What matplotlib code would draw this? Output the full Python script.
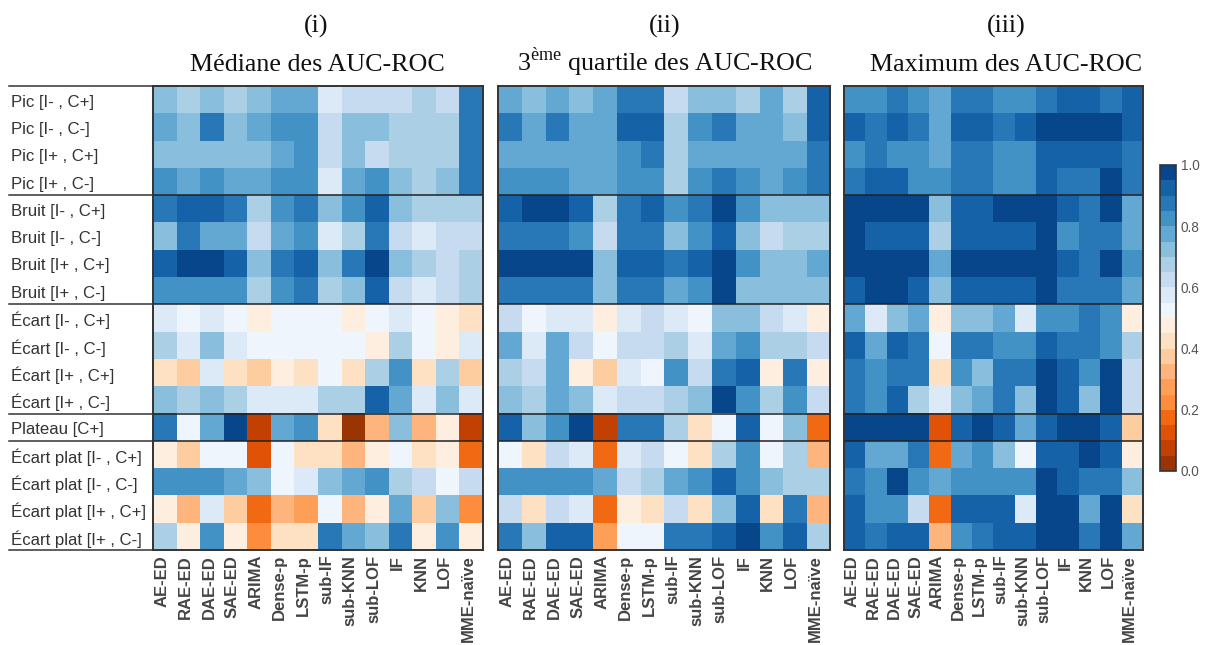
import numpy as np
import matplotlib as mpl
mpl.use('Agg')
import matplotlib.pyplot as plt
from matplotlib.colors import ListedColormap, BoundaryNorm
from matplotlib.transforms import ScaledTranslation

plt.rcParams['font.family'] = ['Liberation Sans', 'DejaVu Sans']
plt.rcParams['mathtext.fontset'] = 'custom'
plt.rcParams['mathtext.rm'] = 'Liberation Serif'

methods = ['AE-ED', 'RAE-ED', 'DAE-ED', 'SAE-ED', 'ARIMA', 'Dense-p', 'LSTM-p', 'sub-IF',
           'sub-KNN', 'sub-LOF', 'IF', 'KNN', 'LOF', 'MME-naïve']
anomalies = ['Pic [I- , C+]', 'Pic [I- , C-]', 'Pic [I+ , C+]', 'Pic [I+ , C-]',
             'Bruit [I- , C+]', 'Bruit [I- , C-]', 'Bruit [I+ , C+]', 'Bruit [I+ , C-]',
             'Écart [I- , C+]', 'Écart [I- , C-]', 'Écart [I+ , C+]', 'Écart [I+ , C-]',
             'Plateau [C+]',
             'Écart plat [I- , C+]', 'Écart plat [I- , C-]', 'Écart plat [I+ , C+]', 'Écart plat [I+ , C-]']

mediane = [
    [.72, .67, .72, .67, .72, .77, .77, .57, .62, .62, .62, .67, .62, .87],
    [.77, .72, .87, .72, .77, .82, .82, .62, .72, .72, .67, .67, .67, .87],
    [.72, .72, .72, .72, .72, .77, .82, .62, .72, .62, .67, .67, .67, .87],
    [.82, .77, .82, .77, .77, .82, .82, .57, .77, .82, .72, .67, .72, .87],
    [.87, .92, .92, .87, .67, .82, .87, .72, .82, .92, .72, .67, .67, .67],
    [.72, .87, .77, .77, .62, .77, .82, .57, .67, .87, .62, .57, .62, .62],
    [.92, .97, .97, .92, .72, .87, .92, .72, .87, .97, .72, .67, .62, .67],
    [.82, .82, .82, .82, .67, .82, .87, .67, .72, .92, .62, .57, .62, .67],
    [.57, .52, .57, .52, .47, .52, .52, .52, .47, .52, .57, .52, .47, .42],
    [.67, .57, .72, .57, .52, .52, .52, .52, .52, .47, .67, .52, .47, .57],
    [.42, .37, .57, .42, .37, .47, .42, .52, .42, .67, .82, .42, .67, .37],
    [.72, .67, .72, .67, .57, .57, .57, .67, .67, .92, .77, .57, .72, .57],
    [.87, .52, .77, .97, .07, .77, .82, .42, .02, .32, .72, .32, .47, .07],
    [.47, .37, .52, .52, .12, .52, .42, .42, .32, .47, .52, .42, .47, .17],
    [.82, .82, .82, .77, .72, .52, .57, .72, .77, .82, .67, .62, .52, .62],
    [.47, .32, .57, .37, .17, .32, .27, .52, .32, .47, .77, .37, .72, .22],
    [.67, .47, .82, .47, .22, .42, .42, .87, .77, .72, .87, .47, .82, .47],
]
quartile = [
    [.77, .72, .77, .72, .77, .87, .87, .62, .72, .72, .67, .77, .67, .92],
    [.87, .77, .87, .77, .77, .92, .92, .67, .82, .87, .77, .77, .72, .92],
    [.77, .77, .77, .77, .77, .82, .87, .67, .77, .77, .77, .77, .77, .87],
    [.82, .82, .82, .77, .77, .82, .82, .67, .82, .87, .82, .77, .82, .87],
    [.92, .97, .97, .92, .67, .87, .92, .82, .87, .97, .82, .72, .72, .72],
    [.87, .87, .87, .82, .62, .87, .87, .72, .82, .92, .72, .62, .67, .67],
    [.97, .97, .97, .97, .72, .92, .92, .87, .92, .97, .82, .72, .72, .77],
    [.87, .87, .87, .87, .72, .87, .87, .77, .82, .97, .72, .72, .72, .72],
    [.62, .52, .57, .57, .47, .57, .62, .57, .52, .72, .72, .62, .57, .47],
    [.77, .57, .77, .62, .52, .62, .62, .67, .57, .77, .82, .67, .67, .62],
    [.67, .62, .77, .47, .37, .57, .52, .82, .62, .87, .92, .47, .87, .47],
    [.72, .67, .77, .72, .57, .62, .62, .67, .72, .97, .82, .67, .82, .62],
    [.92, .72, .82, .97, .07, .87, .87, .67, .42, .52, .92, .52, .72, .17],
    [.52, .42, .62, .57, .17, .57, .62, .52, .42, .67, .82, .52, .67, .32],
    [.82, .82, .82, .82, .77, .62, .67, .77, .82, .92, .82, .72, .67, .67],
    [.62, .42, .62, .57, .17, .47, .42, .62, .42, .72, .92, .42, .87, .32],
    [.87, .72, .92, .92, .27, .52, .52, .87, .87, .92, .97, .82, .92, .67],
]
maximum = [
    [.82, .82, .87, .82, .77, .87, .87, .82, .82, .87, .92, .92, .87, .92],
    [.92, .87, .92, .87, .77, .92, .92, .87, .92, .97, .97, .97, .97, .92],
    [.82, .87, .82, .82, .77, .87, .87, .82, .82, .92, .92, .92, .92, .87],
    [.87, .92, .92, .82, .82, .87, .87, .82, .82, .92, .87, .87, .97, .87],
    [.97, .97, .97, .97, .72, .92, .92, .97, .97, .97, .92, .87, .97, .77],
    [.97, .92, .92, .92, .67, .92, .92, .92, .92, .97, .82, .87, .87, .77],
    [.97, .97, .97, .97, .77, .97, .97, .97, .97, .97, .92, .87, .97, .82],
    [.92, .97, .97, .92, .72, .92, .92, .92, .92, .97, .87, .87, .87, .77],
    [.77, .57, .72, .77, .47, .72, .72, .77, .57, .82, .82, .87, .82, .47],
    [.92, .77, .92, .87, .52, .87, .87, .82, .82, .92, .87, .87, .82, .67],
    [.87, .82, .87, .87, .42, .82, .72, .87, .87, .97, .92, .82, .97, .62],
    [.87, .82, .92, .67, .57, .72, .77, .87, .72, .97, .92, .72, .97, .62],
    [.97, .97, .97, .97, .12, .92, .97, .92, .77, .92, .97, .97, .92, .37],
    [.92, .77, .77, .87, .17, .77, .82, .72, .52, .92, .92, .97, .92, .47],
    [.87, .82, .97, .82, .77, .82, .82, .82, .82, .97, .92, .87, .87, .72],
    [.92, .82, .82, .62, .17, .92, .92, .92, .57, .97, .97, .77, .97, .42],
    [.92, .87, .92, .92, .32, .82, .87, .92, .92, .97, .97, .87, .97, .77],
]

colors = ['#9a3403', '#c14002', '#e05206', '#f16913', '#fd8d3c', '#fd9f56', '#fdb57d', '#fdcda0',
          '#fee0c3', '#feeedf', '#eef5fc', '#dce9f6', '#c6dbef', '#abcfe5', '#89bedc', '#63a8d3',
          '#4392c6', '#2878b8', '#1562a9', '#08468b']
cmap = ListedColormap(colors)
norm = BoundaryNorm(np.linspace(0, 1, 21), cmap.N)

W, H = 1205, 645
GREY = '#333333'


def pix_axes(fig, x0, x1, y0, y1):
    return fig.add_axes([x0 / W, 1 - y1 / H, (x1 - x0) / W, (y1 - y0) / H])


fig = plt.figure(figsize=(W / 100, H / 100), dpi=100, facecolor='white')

panels = [(mediane, 153, 483), (quartile, 498, 830), (maximum, 844, 1143)]
separators = [3.5, 7.5, 11.5, 12.5]

for n, (data, x0, x1) in enumerate(panels):
    ax = pix_axes(fig, x0, x1, 86, 550)
    im = ax.imshow(np.array(data), cmap=cmap, norm=norm, aspect='auto', interpolation='nearest')
    ax.set_xticks(range(len(methods)))
    ax.set_xticklabels(methods, rotation=90, fontsize=12, fontweight='bold', color='#444444',
                       ha='center', va='top')
    ax.tick_params(axis='x', length=0, pad=3.5)
    shift = ScaledTranslation(-3 / 100, 0, fig.dpi_scale_trans)
    for t in ax.get_xticklabels():
        t.set_transform(t.get_transform() + shift)
    if n == 0:
        ax.set_yticks(range(len(anomalies)))
        ax.set_yticklabels(anomalies, fontsize=12.1, color=GREY, ha='left')
        ax.tick_params(axis='y', length=0, pad=102)
        down = ScaledTranslation(0, -1 / 100, fig.dpi_scale_trans)
        for t in ax.get_yticklabels():
            t.set_transform(t.get_transform() + down)
        tr = ax.get_yaxis_transform()
        for y in [-0.5, 3.5, 7.5, 11.5, 12.5, 16.5]:
            ax.plot([-144 / (x1 - x0), 0], [y, y], color=GREY, lw=1.1, transform=tr, clip_on=False)
    else:
        ax.set_yticks([])
    for y in separators:
        ax.axhline(y, color='#222222', lw=1.1)
    ax.set_xlim(-0.5, 13.5)
    ax.set_ylim(16.5, -0.5)
    for s in ax.spines.values():
        s.set_color(GREY)
        s.set_linewidth(1.4)

# titres
title_font = dict(family='Liberation Serif', fontsize=18.7, color='#111111', ha='center', va='baseline')
fig.text(316 / W, 1 - 33 / H, '(i)', **title_font)
fig.text(317 / W, 1 - 71 / H, 'Médiane des AUC-ROC', **title_font)
fig.text(665 / W, 1 - 33 / H, '(ii)', **title_font)
fig.text(665 / W, 1 - 71 / H, '3$^{\\mathrm{ème}}$ quartile des AUC-ROC', **title_font)
fig.text(1006 / W, 1 - 33 / H, '(iii)', **title_font)
fig.text(1006 / W, 1 - 71 / H, 'Maximum des AUC-ROC', **title_font)

cax = pix_axes(fig, 1160, 1176, 165, 471)
cb = fig.colorbar(im, cax=cax, ticks=[0, .2, .4, .6, .8, 1], drawedges=False)
cb.ax.minorticks_off()
cb.ax.set_yticklabels(['0.0', '0.2', '0.4', '0.6', '0.8', '1.0'], fontsize=9.8, color='#555555')
cb.ax.tick_params(which='both', length=0, pad=3.5)
cb.outline.set_edgecolor(GREY)
cb.outline.set_linewidth(1.2)

plt.savefig('out.png', dpi=100)
